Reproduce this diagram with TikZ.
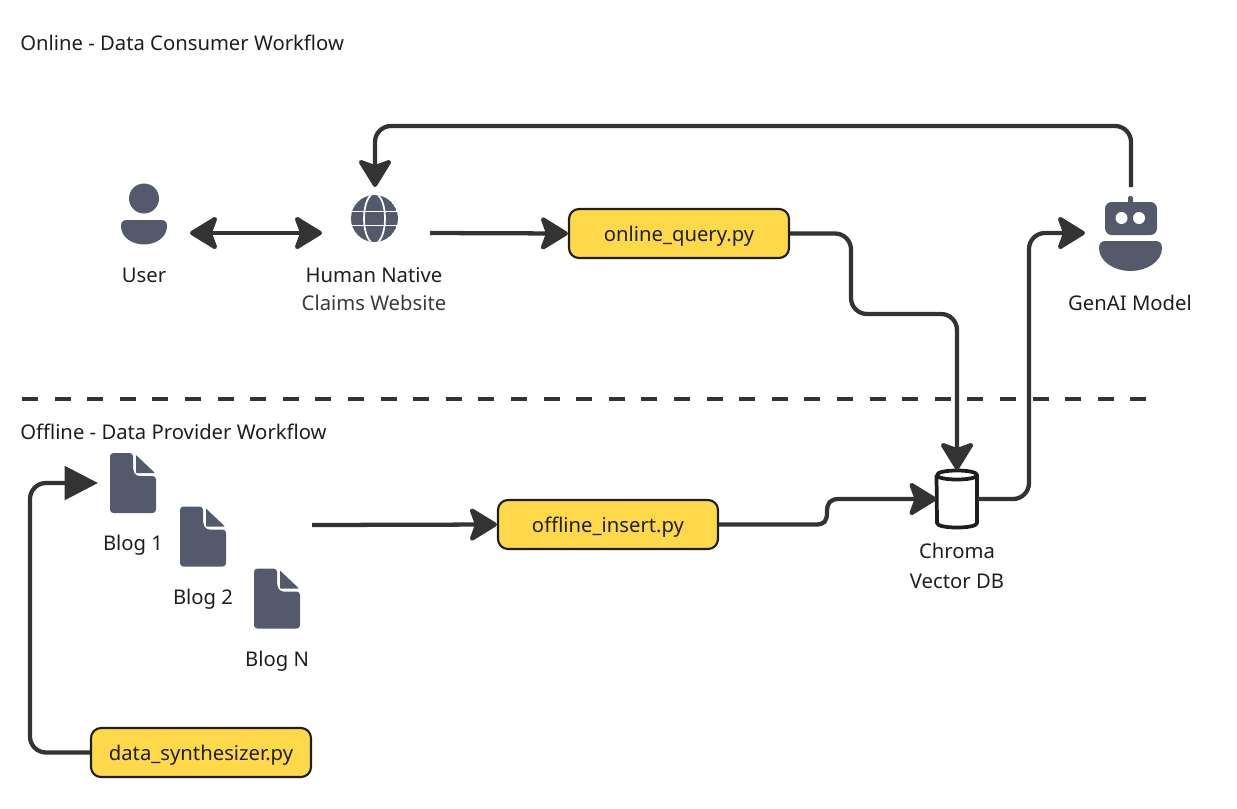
\documentclass[tikz,border=0pt]{standalone}
\usepackage{fontspec}
\setmainfont{Noto Sans}
\usetikzlibrary{arrows.meta,positioning}
\definecolor{iconcol}{HTML}{545A6C}
\definecolor{linecol}{HTML}{333333}
\definecolor{boxcol}{HTML}{FFD94A}
\definecolor{textcol}{HTML}{1E1E1E}
\definecolor{subcol}{HTML}{3A3A3A}
\begin{document}
\begin{tikzpicture}[line join=round,x=.75pt,y=-.75pt]
		\tikzset{
			txt/.style={font=\fontsize{15.2}{18}\selectfont,text=textcol,inner sep=0pt},
			script/.style={txt,draw=textcol,line width=1.6pt,fill=boxcol,rounded corners=7.5pt,minimum width=165pt,minimum height=36.75pt,text height=13pt,text depth=.7pt},
			spot/.style={inner sep=0pt,outer sep=0pt,minimum width=69pt,minimum height=69pt},
			flow/.style={draw=linecol,line width=3.2pt,rounded corners=12pt},
			head/.style={-{Stealth[length=23pt,width=28pt,inset=5pt,round]}},
			heads/.style={{Stealth[length=23pt,width=28pt,inset=5pt,round]}-{Stealth[length=23pt,width=28pt,inset=5pt,round]}},
			blogicon/.pic={
				\fill[iconcol,rounded corners=2.5pt] (-23,-30) -- (0,-30) -- (0,-13) -- (3,-7) -- (23,-7) -- (23,30) -- (-23,30) -- cycle;
				\fill[iconcol,rounded corners=.5pt] (3,-28) -- (22,-10) -- (3,-10) -- cycle;
			}
		}
		\useasboundingbox (0,0) rectangle (1237,808);
		\node[txt,anchor=west] (online) at (20,42.5) {Online - Data Consumer Workflow};
		\node[txt,anchor=west] (offline) at (20,431.5) {Offline - Data Provider Workflow};
		% icons are drawn over empty boxes, the arrows end on the boxes
		\node[spot] (user) at (144,233) {};
		\node[spot,minimum width=81pt] (native) at (376,233) {};
		\node[spot] (genai) at (1131,233) {};
		\node[inner sep=0pt,outer sep=0pt,minimum width=30.75pt,minimum height=43.5pt] (chroma) at (957,499) {};
		\coordinate (blogs) at (312,525);
		\node[script] (query) at (679,233.5) {online\_query.py};
		\node[script] (insert) at (608,524.5) {offline\_insert.py};
		\node[script] (synth) at (201,752.5) {data\_synthesizer.py};
		% user
		\fill[iconcol] (144,198.5) circle (15);
		\fill[iconcol] (121,226) .. controls (121,222) and (123,220) .. (127,220) -- (161,220) .. controls (165,220) and (167,222) .. (167,226) .. controls (167,238) and (155,244.5) .. (144,244.5) .. controls (133,244.5) and (121,238) .. (121,226) -- cycle;
		\node[txt] (userlab) at (144,275) {User};
		% website
		\begin{scope}
		\clip (374.5,218.5) circle (23.5);
		\fill[iconcol] (374.5,218.5) circle (23.5);
		\draw[white,line width=1.3pt] (374.5,218.5) ellipse (10.5 and 25);
		\draw[white,line width=1.3pt] (350,211.5) -- (400,211.5);
		\draw[white,line width=1.3pt] (350,225.5) -- (400,225.5);
		\end{scope}
		\node[txt] (nativelab) at (374,275) {Human Native};
		\node[txt,text=subcol] (claims) at (374,303) {Claims Website};
		% robot
		\fill[iconcol,rounded corners=1.5pt] (1128,205) rectangle (1133,196);
		\fill[iconcol,rounded corners=5pt] (1105,202) rectangle (1157,235);
		\fill[white] (1121.5,218) circle (6);
		\fill[white] (1139,218) circle (6);
		\fill[iconcol] (1099,248) .. controls (1099,244) and (1101,241) .. (1105,241) -- (1156,241) .. controls (1160,241) and (1162,244) .. (1162,248) .. controls (1162,262) and (1146,271) .. (1130.5,271) .. controls (1115,271) and (1099,262) .. (1099,248) -- cycle;
		\node[txt] (genailab) at (1130,303) {GenAI Model};
		% blogs
		\foreach \n/\x/\y/\t in {1/133/483/Blog 1,2/203/536.5/Blog 2,N/277/598.5/Blog N}{
			\pic at (\x,\y) {blogicon};
			\node[txt] (bloglab\n) at (\x,\y+62.5) {\t};
		}
		\node[inner sep=0pt,outer sep=0pt,minimum width=52.5pt,minimum height=45pt] (blog1) at (133,483) {};
		% database
		\draw[textcol,line width=2.8pt,fill=white] (chroma.north west) ++(0,5) -- (937,523) .. controls (937,526) and (947,527.5) .. (957,527.5) .. controls (967,527.5) and (977,526) .. (977,523) -- (977,475) .. controls (977,472) and (967,470.5) .. (957,470.5) .. controls (947,470.5) and (937,472) .. (937,475) .. controls (937,478) and (947,479.5) .. (957,479.5) .. controls (967,479.5) and (977,478) .. (977,475);
		\node[txt] (chromalab) at (957,551) {Chroma};
		\node[txt] (vectorlab) at (957,581) {Vector DB};
		% connectors
		\draw[flow,heads] (user.east) -- (native.west);
		\draw[flow,head] (native.east) -- (query.west);
		\draw[flow,head] (query.east) -| (851,314) -| (chroma.north);
		\draw[flow,head] (chroma.east) -| (1029,233) -- (genai.west);
		\draw[flow,head] (genai.north) |- (375,126) -- (375,187);
		\draw[flow,head] (blogs) -- (insert.west);
		\draw[draw=linecol,line width=3.2pt,head] (insert.east) -- (815,524.5) .. controls (824,524.5) and (827,522) .. (827,512) .. controls (827,503) and (830,499) .. (839,499) -- (chroma.west);
		\draw[flow,-{Triangle[length=25pt,width=25pt]}] (synth.west) -| (30,483) -- (blog1.west);
		\draw[draw=linecol,line width=3pt,dash pattern=on 12pt off 12.45pt] (22,399) -- (1146,399);
\end{tikzpicture}
\end{document}
